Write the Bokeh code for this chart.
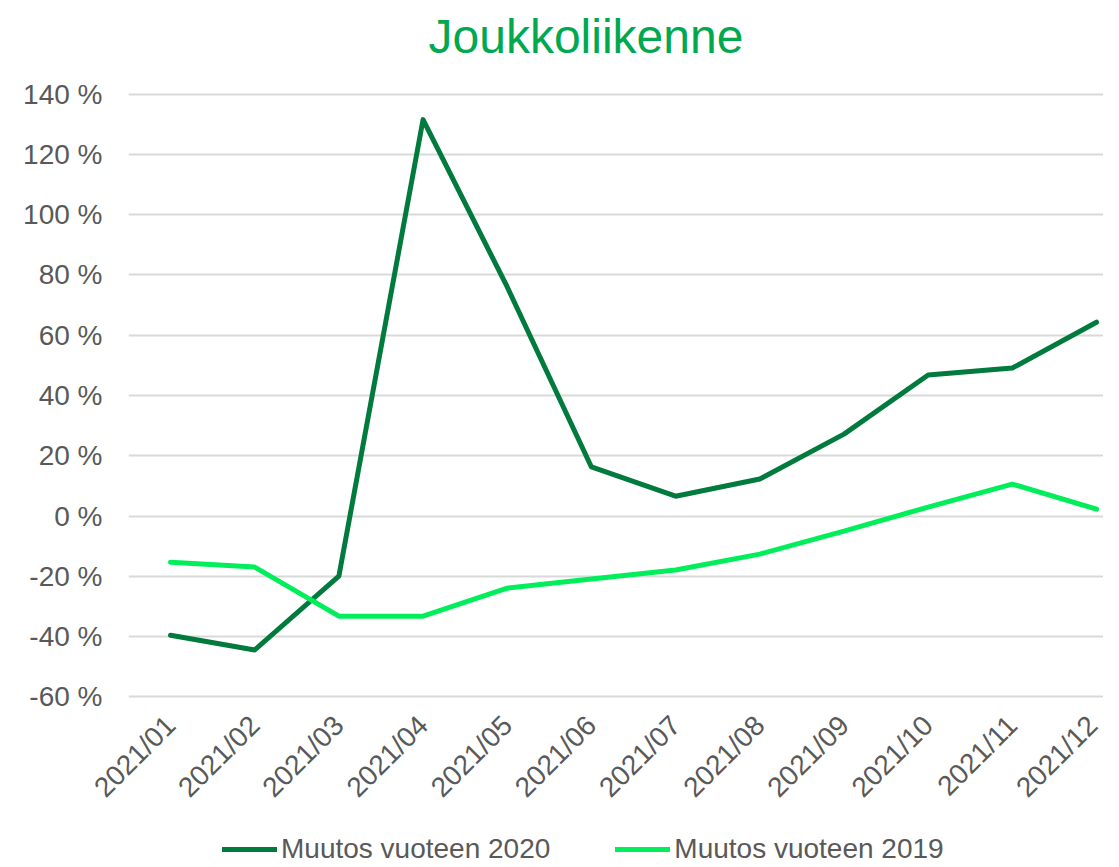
import math
from bokeh.plotting import figure
from bokeh.layouts import column
from bokeh.models import Legend, LegendItem, FixedTicker, Range1d, Title
from bokeh.embed import file_html
from bokeh.resources import INLINE

months = ["2021/01", "2021/02", "2021/03", "2021/04", "2021/05", "2021/06",
          "2021/07", "2021/08", "2021/09", "2021/10", "2021/11", "2021/12"]
change_2020 = [-39.5, -44.4, -19.9, 131.5, 76.0, 16.3, 6.6, 12.3, 27.2, 46.8, 49.1, 64.3]
change_2019 = [-15.3, -16.9, -33.2, -33.2, -23.9, -20.9, -17.9, -12.6, -5.0, 3.0, 10.6, 2.3]
y_ticks = [-60, -40, -20, 0, 20, 40, 60, 80, 100, 120, 140]
series_names = ["Muutos vuoteen 2020", "Muutos vuoteen 2019"]

xs = list(range(len(months)))

FONT = "Liberation Sans"
GREY = "#595959"
FS = "28px"
DARK = "#007A3D"
LIGHT = "#00EE5A"

p = figure(width=1103, height=818, output_backend="svg", toolbar_location=None,
           x_range=Range1d(-0.499, 11.083), y_range=Range1d(-60.5, 140.5),
           min_border_left=128, min_border_right=0, min_border_top=92,
           min_border_bottom=120)

# spacer closest to the frame, then the visible title above it
p.add_layout(Title(text=" ", text_font_size="25px", standoff=0), "above")
p.add_layout(Title(text="Joukkoliikenne", align="left", offset=300, standoff=0,
                   text_font=FONT, text_font_size="48px", text_font_style="normal",
                   text_color="#00A84F"), "above")

p.line(xs, change_2020, line_color=DARK, line_width=5, line_join="round", line_cap="round")
p.line(xs, change_2019, line_color=LIGHT, line_width=5, line_join="round", line_cap="round")

p.outline_line_color = None
p.background_fill_color = "white"
p.border_fill_color = "white"

p.xgrid.grid_line_color = None
p.ygrid.grid_line_color = "#D9D9D9"
p.ygrid.grid_line_width = 2
p.ygrid.ticker = FixedTicker(ticks=y_ticks)

p.yaxis.ticker = FixedTicker(ticks=y_ticks)
p.yaxis.major_label_overrides = {t: f"{t} %" for t in y_ticks}
p.yaxis.axis_line_color = None
p.yaxis.major_tick_line_color = None
p.yaxis.minor_tick_line_color = None
p.yaxis.major_label_text_font = FONT
p.yaxis.major_label_text_font_size = FS
p.yaxis.major_label_text_color = GREY
p.yaxis.major_label_standoff = 20

p.xaxis.ticker = FixedTicker(ticks=xs)
p.xaxis.major_label_overrides = {i: m for i, m in enumerate(months)}
p.xaxis.axis_line_color = None
p.xaxis.major_tick_line_color = None
p.xaxis.minor_tick_line_color = None
p.xaxis.major_label_orientation = math.pi / 4
p.xaxis.major_label_text_font = FONT
p.xaxis.major_label_text_font_size = FS
p.xaxis.major_label_text_color = GREY
p.xaxis.major_label_standoff = 16

# legend strip below the chart (its lines lie outside its visible range)
q = figure(width=1103, height=48, output_backend="svg", toolbar_location=None,
           x_range=Range1d(100, 101), y_range=Range1d(0, 1),
           min_border_left=0, min_border_right=0, min_border_top=0, min_border_bottom=0)
q.axis.visible = False
q.grid.visible = False
q.outline_line_color = None
q1 = q.line(xs, change_2020, line_color=DARK, line_width=5, line_cap="round")
q2 = q.line(xs, change_2019, line_color=LIGHT, line_width=5, line_cap="round")

legend = Legend(items=[LegendItem(label=series_names[0], renderers=[q1]),
                       LegendItem(label=series_names[1], renderers=[q2])],
                orientation="horizontal", location=(94, 1),
                label_text_font=FONT, label_text_font_size=FS,
                label_text_color=GREY, glyph_width=55, label_standoff=4,
                spacing=65, border_line_color=None, background_fill_alpha=0,
                margin=0, padding=0)
q.add_layout(legend, "center")

layout = column(p, q, spacing=0)
open("out.html", "w").write(file_html(layout, INLINE))
